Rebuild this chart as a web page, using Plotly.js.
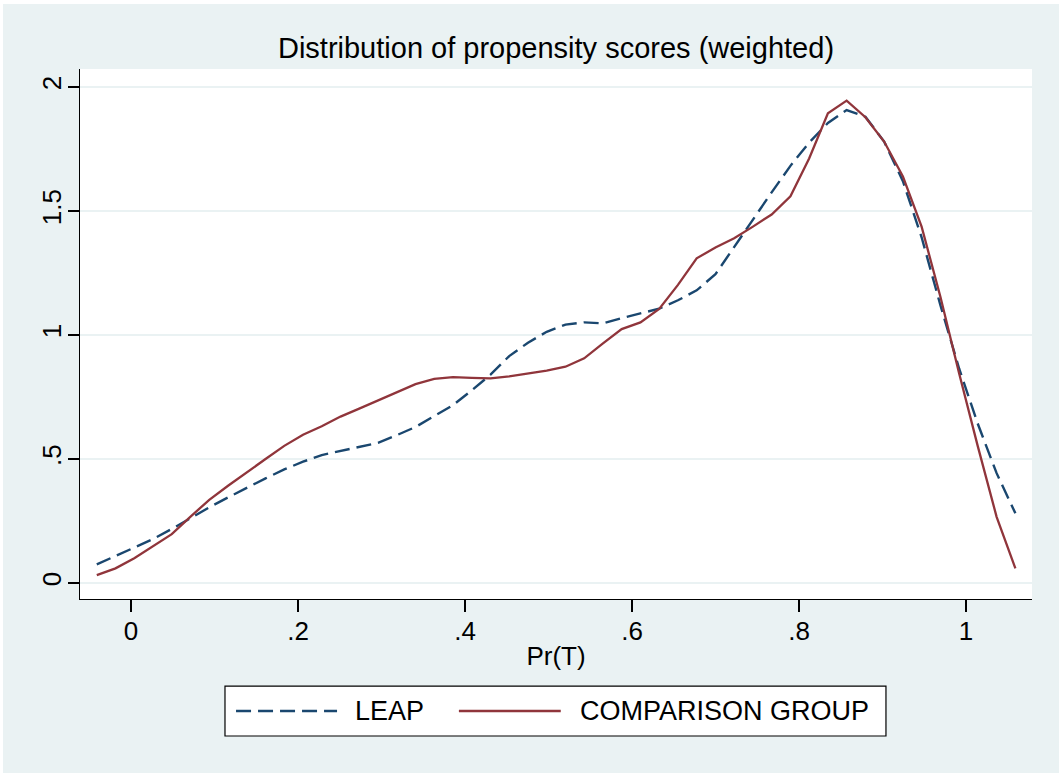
<!DOCTYPE html>
<html>
<head>
<meta charset="utf-8">
<script src="https://cdn.plot.ly/plotly-3.0.1.min.js"></script>
<style>
  html, body { margin: 0; padding: 0; background: #ffffff; }
  #chart { position: absolute; left: 3px; top: 4px; width: 1056px; height: 769px; }
</style>
</head>
<body>
<div id="chart"></div>
<script>
// Evaluation grid (Pr(T)) shared by both density estimates
const prT = [-0.041, -0.0186, 0.0039, 0.0264, 0.0488, 0.0713, 0.0937, 0.1162, 0.1386, 0.1611,
             0.1835, 0.2060, 0.2284, 0.2509, 0.2733, 0.2958, 0.3182, 0.3407, 0.3631, 0.3856,
             0.4080, 0.4305, 0.4529, 0.4754, 0.4978, 0.5203, 0.5427, 0.5652, 0.5876, 0.6101,
             0.6325, 0.6550, 0.6774, 0.6999, 0.7223, 0.7448, 0.7672, 0.7897, 0.8121, 0.8346,
             0.8570, 0.8795, 0.9019, 0.9244, 0.9468, 0.9693, 0.9917, 1.0142, 1.0366, 1.0591];

const leapDensity = [0.075, 0.108, 0.141, 0.177, 0.218, 0.262, 0.305, 0.345, 0.385, 0.422,
                     0.458, 0.489, 0.516, 0.532, 0.547, 0.565, 0.596, 0.629, 0.673, 0.717,
                     0.777, 0.840, 0.915, 0.969, 1.013, 1.042, 1.051, 1.047, 1.068, 1.088,
                     1.106, 1.140, 1.180, 1.245, 1.355, 1.470, 1.575, 1.682, 1.776, 1.855,
                     1.907, 1.880, 1.780, 1.620, 1.394, 1.120, 0.865, 0.641, 0.443, 0.281];

const comparisonDensity = [0.032, 0.059, 0.100, 0.147, 0.197, 0.268, 0.335, 0.392, 0.447, 0.500,
                           0.553, 0.598, 0.632, 0.671, 0.703, 0.735, 0.768, 0.802, 0.823, 0.830,
                           0.827, 0.825, 0.833, 0.845, 0.856, 0.872, 0.906, 0.966, 1.024, 1.051,
                           1.105, 1.202, 1.309, 1.353, 1.390, 1.437, 1.486, 1.559, 1.712, 1.894,
                           1.945, 1.878, 1.780, 1.639, 1.437, 1.154, 0.846, 0.550, 0.267, 0.059];

const seriesNames = ["LEAP", "COMPARISON GROUP"];
const xTickVals = [0, 0.2, 0.4, 0.6, 0.8, 1];
const xTickText = ["0", ".2", ".4", ".6", ".8", "1"];
const yTickVals = [0, 0.5, 1, 1.5, 2];
const yTickText = ["0", ".5", "1", "1.5", "2"];

const BLUE = "#1a476f";
const RED = "#90353b";
const BG = "#eaf2f3";
const FONT = "Liberation Sans, Arial, Helvetica, sans-serif";

const traces = [
  { x: prT, y: leapDensity, name: seriesNames[0], type: "scatter", mode: "lines",
    line: { color: BLUE, width: 2.4, dash: "15px,7px" } },
  { x: prT, y: comparisonDensity, name: seriesNames[1], type: "scatter", mode: "lines",
    line: { color: RED, width: 2.3 } }
];

// legend drawn in Stata style (long line samples)
const legY = -0.2113;
const layout = {
  width: 1056, height: 769,
  paper_bgcolor: BG, plot_bgcolor: "#ffffff",
  margin: { l: 77, r: 27, t: 65, b: 174, pad: 0 },
  showlegend: false,
  font: { family: FONT, color: "#000000", size: 26 },
  title: { text: "Distribution of propensity scores (weighted)", font: { size: 29, family: FONT },
           x: 0.5, xref: "paper", xanchor: "center", y: 0.943, yref: "container", yanchor: "middle" },
  xaxis: {
    range: [-0.0611, 1.079], tickvals: xTickVals, ticktext: xTickText,
    showgrid: false, zeroline: false, showline: true, linecolor: "#000000", linewidth: 1.3,
    ticks: "outside", ticklen: 12, tickwidth: 1.3, tickcolor: "#000000",
    tickfont: { size: 26 }, ticklabelstandoff: -4,
    title: { text: "Pr(T)", font: { size: 26 }, standoff: 2 }
  },
  yaxis: {
    range: [-0.0645, 2.0726], tickvals: yTickVals, ticktext: yTickText, tickangle: -90,
    showgrid: true, gridcolor: BG, gridwidth: 2, zeroline: false,
    showline: true, linecolor: "#000000", linewidth: 1.3,
    ticks: "outside", ticklen: 11, tickwidth: 1.3, tickcolor: "#000000",
    tickfont: { size: 26 }, ticklabelstandoff: -4
  },
  shapes: [
    { type: "rect", xref: "paper", yref: "paper", x0: 0.1523, x1: 0.8466, y0: -0.2585, y1: -0.1642,
      line: { color: "#000000", width: 1.2 }, fillcolor: "#ffffff" },
    { type: "line", xref: "paper", yref: "paper", x0: 0.1639, x1: 0.270, y0: legY, y1: legY,
      line: { color: BLUE, width: 2.4, dash: "15px,7px" } },
    { type: "line", xref: "paper", yref: "paper", x0: 0.398, x1: 0.505, y0: legY, y1: legY,
      line: { color: RED, width: 2.3 } }
  ],
  annotations: [
    { text: seriesNames[0], xref: "paper", yref: "paper", x: 0.2868, y: legY, xanchor: "left",
      yanchor: "middle", showarrow: false, font: { size: 27 } },
    { text: seriesNames[1], xref: "paper", yref: "paper", x: 0.523, y: legY, xanchor: "left",
      yanchor: "middle", showarrow: false, font: { size: 27 } }
  ]
};

Plotly.newPlot("chart", traces, layout, { displayModeBar: false, staticPlot: true });
</script>
</body>
</html>
